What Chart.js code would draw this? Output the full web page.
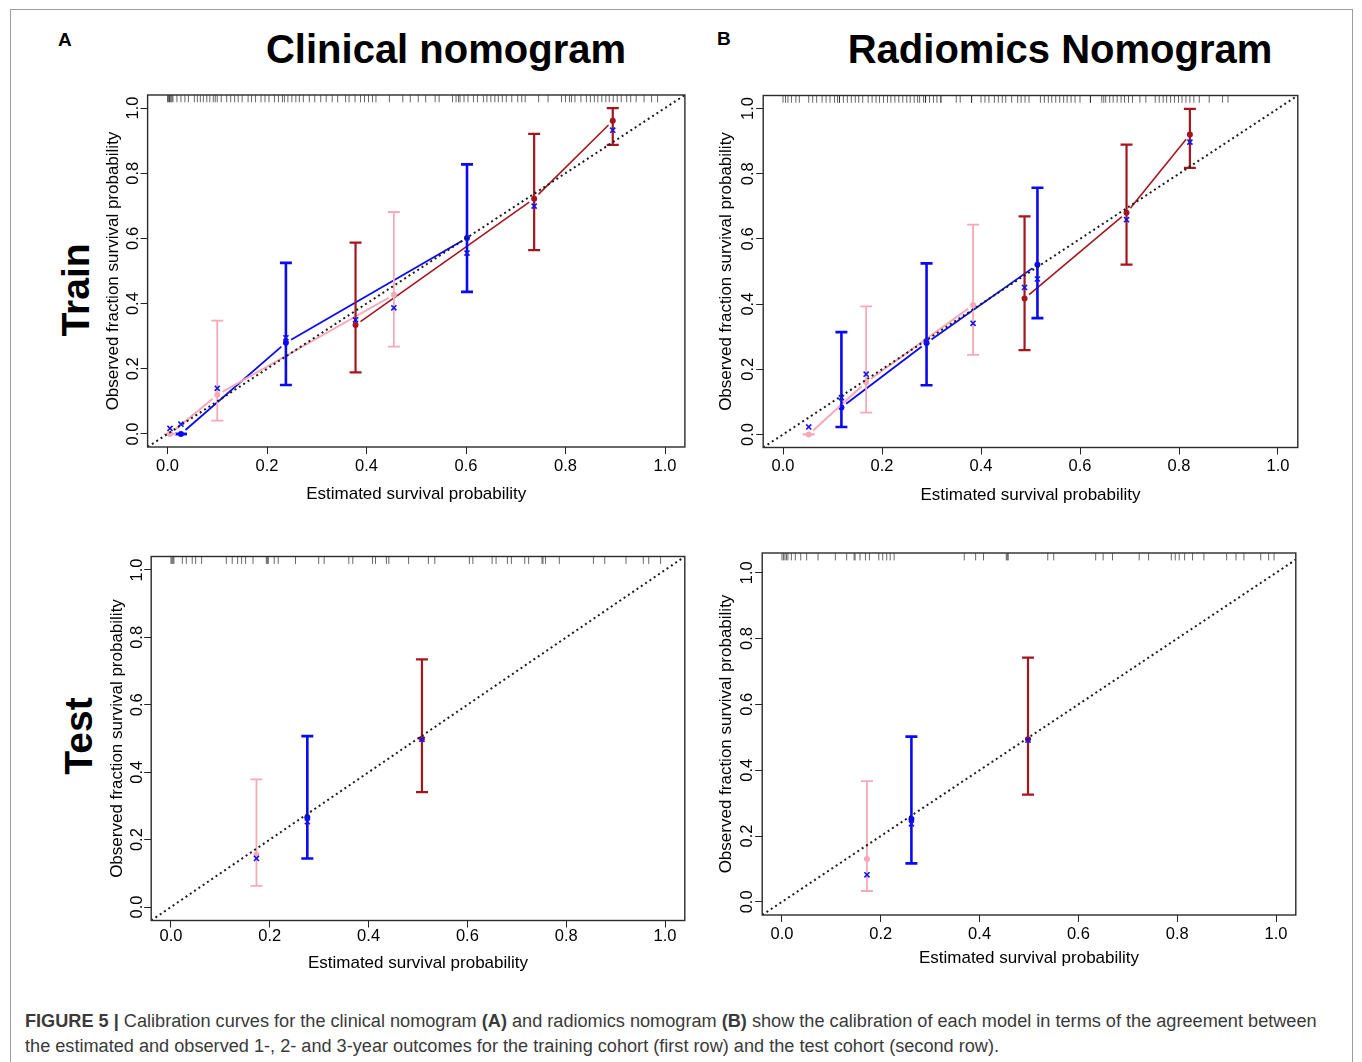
<!DOCTYPE html>
<html>
<head>
<meta charset="utf-8">
<title>Calibration curves</title>
<script src="https://cdn.jsdelivr.net/npm/chart.js@4.4.1/dist/chart.umd.min.js"></script>
<style>
  html, body { margin: 0; padding: 0; width: 1362px; height: 1062px; overflow: hidden; background: #fff; }
  body { position: relative; font-family: "Liberation Sans", Arial, sans-serif; }
  #frame { position: absolute; left: 10px; top: 9px; width: 1341px; height: 1120px; border: 1px solid #9c9c9c; }
  canvas { position: absolute; }
  .txt { position: absolute; white-space: nowrap; color: #000; line-height: 1; }
  .rot { transform: translate(-50%, -50%) rotate(-90deg); }
  .cap { position: absolute; left: 25px; white-space: nowrap; color: #3a3a3a; font-size: 16.5px; line-height: 1; }
  .cap b { color: #3a3a3a; }
</style>
</head>
<body>
<div id="frame"></div>

<div class="txt" style="left:58px;top:30px;font-weight:bold;font-size:19px;">A</div>
<div class="txt" style="left:717px;top:29px;font-weight:bold;font-size:19px;">B</div>
<div class="txt" style="left:146px;top:29px;width:600px;text-align:center;font-weight:bold;font-size:40px;">Clinical nomogram</div>
<div class="txt" style="left:760px;top:29px;width:600px;text-align:center;font-weight:bold;font-size:40px;">Radiomics Nomogram</div>
<div class="txt rot" style="left:75px;top:290px;font-weight:bold;font-size:39px;">Train</div>
<div class="txt rot" style="left:78px;top:736px;font-weight:bold;font-size:39px;">Test</div>

<canvas id="clinTrain"></canvas>
<canvas id="radTrain"></canvas>
<canvas id="clinTest"></canvas>
<canvas id="radTest"></canvas>

<div class="cap" id="cap1" style="top:1012px;"><b>FIGURE 5 |</b> Calibration curves for the clinical nomogram <b>(A)</b> and radiomics nomogram <b>(B)</b> show the calibration of each model in terms of the agreement between</div>
<div class="cap" id="cap2" style="top:1037px;">the estimated and observed 1-, 2- and 3-year outcomes for the training cohort (first row) and the test cohort (second row).</div>

<script>
// ---- axis tick values shared by every panel ----
const AXIS_TICKS = [0, 0.2, 0.4, 0.6, 0.8, 1.0];

// Groups in each panel: [1-year, 2-year, 3-year]
// pred = mean predicted survival, obs = Kaplan-Meier observed, lo/hi = 95% CI, corr = bias-corrected

// ---- Clinical nomogram, training cohort ----
const clinTrainPred = [[0.378, 0.737, 0.895], [0.027, 0.238, 0.602], [0.005, 0.100, 0.455]];
const clinTrainObs  = [[0.334, 0.722, 0.961], [0.000, 0.280, 0.601], [0.000, 0.120, 0.427]];
const clinTrainLo   = [[0.189, 0.564, 0.887], [0.000, 0.150, 0.436], [0.000, 0.041, 0.268]];
const clinTrainHi   = [[0.587, 0.921, 1.000], [0.000, 0.525, 0.827], [0.000, 0.348, 0.681]];
const clinTrainCorr = [[0.350, 0.699, 0.932], [0.030, 0.295, 0.555], [0.017, 0.140, 0.387]];
const clinTrainRug = [0.000, 0.002, 0.004, 0.005, 0.007, 0.009, 0.011, 0.019, 0.027, 0.035, 0.042,
  0.054, 0.060, 0.066, 0.072, 0.079, 0.085, 0.092, 0.096, 0.100, 0.108, 0.119, 0.127, 0.135, 0.142,
  0.150, 0.162, 0.169, 0.177, 0.188, 0.196, 0.204, 0.215, 0.223, 0.231, 0.235, 0.242, 0.250, 0.258,
  0.265, 0.273, 0.285, 0.296, 0.308, 0.319, 0.331, 0.342, 0.358, 0.365, 0.377, 0.388, 0.396, 0.404,
  0.412, 0.419, 0.446, 0.473, 0.488, 0.504, 0.519, 0.538, 0.546, 0.573, 0.580, 0.585, 0.588, 0.596,
  0.604, 0.615, 0.623, 0.635, 0.642, 0.650, 0.658, 0.665, 0.673, 0.681, 0.692, 0.704, 0.712, 0.719,
  0.746, 0.765, 0.792, 0.800, 0.808, 0.812, 0.819, 0.831, 0.842, 0.850, 0.858, 0.865, 0.873, 0.881,
  0.888, 0.896, 0.904, 0.912, 0.923, 0.931, 0.942, 0.958, 0.973, 0.985];

// ---- Radiomics nomogram, training cohort ----
const radTrainPred = [[0.488, 0.694, 0.822], [0.118, 0.290, 0.514], [0.052, 0.168, 0.384]];
const radTrainObs  = [[0.417, 0.680, 0.920], [0.083, 0.281, 0.521], [0.000, 0.160, 0.397]];
const radTrainLo   = [[0.259, 0.521, 0.818], [0.023, 0.151, 0.357], [0.000, 0.067, 0.244]];
const radTrainHi   = [[0.669, 0.889, 0.999], [0.314, 0.525, 0.757], [0.000, 0.393, 0.644]];
const radTrainCorr = [[0.451, 0.659, 0.897], [0.113, 0.285, 0.477], [0.023, 0.185, 0.341]];
const radTrainRug = [0.000, 0.005, 0.010, 0.017, 0.026, 0.033, 0.052, 0.060, 0.068, 0.079, 0.087,
  0.095, 0.104, 0.110, 0.114, 0.114, 0.122, 0.130, 0.138, 0.146, 0.153, 0.161, 0.172, 0.180, 0.188,
  0.195, 0.203, 0.211, 0.218, 0.226, 0.234, 0.242, 0.250, 0.257, 0.265, 0.272, 0.276, 0.284, 0.288,
  0.288, 0.296, 0.304, 0.311, 0.319, 0.319, 0.350, 0.358, 0.381, 0.381, 0.400, 0.408, 0.416, 0.427,
  0.435, 0.443, 0.450, 0.462, 0.474, 0.481, 0.489, 0.497, 0.520, 0.528, 0.536, 0.543, 0.551, 0.559,
  0.567, 0.574, 0.582, 0.590, 0.600, 0.621, 0.621, 0.644, 0.648, 0.652, 0.660, 0.667, 0.675, 0.683,
  0.690, 0.698, 0.706, 0.721, 0.733, 0.752, 0.760, 0.768, 0.775, 0.783, 0.791, 0.799, 0.806, 0.814,
  0.822, 0.830, 0.841, 0.861, 0.888, 0.899];

// ---- Clinical nomogram, test cohort ----
const clinTestPred = [[0.508], [0.276], [0.173]];
const clinTestObs  = [[0.499], [0.266], [0.155]];
const clinTestLo   = [[0.341], [0.144], [0.063]];
const clinTestHi   = [[0.735], [0.507], [0.379]];
const clinTestCorr = [[0.497], [0.253], [0.144]];
const clinTestRug = [0.000, 0.002, 0.004, 0.006, 0.023, 0.031, 0.043, 0.050, 0.062, 0.112, 0.124,
  0.135, 0.143, 0.151, 0.166, 0.193, 0.195, 0.197, 0.209, 0.217, 0.252, 0.299, 0.310, 0.360, 0.368,
  0.408, 0.414, 0.436, 0.441, 0.481, 0.521, 0.534, 0.604, 0.611, 0.650, 0.658, 0.681, 0.689, 0.716,
  0.724, 0.751, 0.753, 0.758, 0.786, 0.855, 0.878, 0.921, 0.956, 0.967, 0.991];

// ---- Radiomics nomogram, test cohort ----
const radTestPred = [[0.498], [0.262], [0.172]];
const radTestObs  = [[0.494], [0.252], [0.130]];
const radTestLo   = [[0.326], [0.117], [0.033]];
const radTestHi   = [[0.742], [0.502], [0.367]];
const radTestCorr = [[0.491], [0.237], [0.082]];
const radTestRug = [0.000, 0.003, 0.006, 0.009, 0.012, 0.019, 0.027, 0.038, 0.050, 0.073, 0.108,
  0.131, 0.146, 0.148, 0.158, 0.169, 0.177, 0.196, 0.204, 0.212, 0.219, 0.227, 0.369, 0.392, 0.408,
  0.454, 0.456, 0.458, 0.538, 0.550, 0.635, 0.650, 0.669, 0.723, 0.742, 0.788, 0.796, 0.804, 0.815,
  0.831, 0.854, 0.900, 0.919, 0.935, 0.969, 0.985, 0.996];

// ---- styling ----
const GROUP_STYLE = [
  { color: '#A3161D', bar: 2.2, line: 1.6 },   // 1-year
  { color: '#0A0AF2', bar: 2.6, line: 1.8 },   // 2-year
  { color: '#F6A9B8', bar: 1.8, line: 2.0 }    // 3-year
];
const CORR_COLOR = '#1414F0';
const FONT = '"Liberation Sans", Arial, sans-serif';

// Connecting lines drawn with short gaps around each point (like type = "b")
const gapLines = {
  id: 'gapLines',
  beforeDatasetDraw(chart, args) {
    const ds = chart.data.datasets[args.index];
    if (!ds.gapLine) return;
    const pts = args.meta.data;
    const ctx = chart.ctx;
    const g = ds.gapLine.gap;
    ctx.save();
    ctx.strokeStyle = ds.gapLine.color;
    ctx.lineWidth = ds.gapLine.width;
    for (let i = 1; i < pts.length; i++) {
      const a = pts[i - 1], b = pts[i];
      const dx = b.x - a.x, dy = b.y - a.y, len = Math.hypot(dx, dy);
      if (len <= 2 * g) continue;
      const ux = dx / len, uy = dy / len;
      ctx.beginPath();
      ctx.moveTo(a.x + ux * g, a.y + uy * g);
      ctx.lineTo(b.x - ux * g, b.y - uy * g);
      ctx.stroke();
    }
    ctx.restore();
  }
};

// Frame around the plotting region
const plotBox = {
  id: 'plotBox',
  afterDraw(chart) {
    const { ctx, chartArea: { left, top, right, bottom } } = chart;
    ctx.save();
    ctx.strokeStyle = '#2a2a2a';
    ctx.lineWidth = 1.4;
    ctx.strokeRect(left, top, right - left, bottom - top);
    ctx.restore();
  }
};

function buildPanel(id, rect, area, labels, range, d) {
  const cv = document.getElementById(id);
  cv.width = rect.w; cv.height = rect.h;
  cv.style.left = rect.x + 'px'; cv.style.top = rect.y + 'px';
  cv.style.width = rect.w + 'px'; cv.style.height = rect.h + 'px';

  const yAxisWidth = area.left - rect.x;
  const xAxisHeight = rect.y + rect.h - area.bottom;
  const tickSize = 16.5, titleSize = 17;
  const halfTick = tickSize * 1.2 / 2;
  const halfTitle = titleSize * 1.2 / 2;
  const tickLen = 7;

  const datasets = [];

  // identity line
  datasets.push({
    data: [{ x: range.x[0], y: range.x[0] }, { x: range.x[1], y: range.x[1] }],
    showLine: true, borderColor: '#1c1c1c', borderWidth: 2, borderDash: [2, 3.2],
    pointRadius: 0, order: 2
  });

  // distribution of predictions along the top edge
  const rugY = range.y[1] - (range.y[1] - range.y[0]) * 0.0105;
  datasets.push({
    data: d.rug.map(v => ({ x: v, y: rugY })),
    showLine: false, pointStyle: 'line', pointRotation: 90, pointRadius: 3.6,
    pointBorderColor: 'rgba(0,0,0,0.6)', pointBorderWidth: 1, order: 6
  });

  d.pred.forEach((xs, g) => {
    const st = GROUP_STYLE[g];
    // confidence bars with caps
    xs.forEach((x, j) => {
      datasets.push({
        data: [{ x: x, y: d.lo[g][j] }, { x: x, y: d.hi[g][j] }],
        showLine: true, borderColor: st.color, borderWidth: st.bar,
        pointStyle: 'line', pointRadius: 6, pointBorderColor: st.color,
        pointBorderWidth: st.bar, order: 4 - g * 0.1
      });
    });
    // observed points joined by lines
    datasets.push({
      data: xs.map((x, j) => ({ x: x, y: d.obs[g][j] })),
      showLine: false, pointStyle: 'circle', pointRadius: 3,
      pointBackgroundColor: st.color, pointBorderWidth: 0,
      gapLine: { color: st.color, width: st.line, gap: 6 },
      order: 5 - g * 0.1
    });
  });

  // bias-corrected estimates
  const corr = [];
  d.pred.forEach((xs, g) => xs.forEach((x, j) => corr.push({ x: x, y: d.corr[g][j] })));
  datasets.push({
    data: corr, showLine: false, pointStyle: 'crossRot', pointRadius: 3.6,
    pointBorderColor: CORR_COLOR, pointBorderWidth: 1.6, order: 1
  });

  const tickFont = { family: FONT, size: tickSize, lineHeight: 1.2 };
  const titleFont = { family: FONT, size: titleSize, lineHeight: 1.2 };
  const fixedTicks = s => { s.ticks = AXIS_TICKS.map(v => ({ value: v })); };

  return new Chart(cv, {
    type: 'scatter',
    data: { datasets },
    plugins: [gapLines, plotBox],
    options: {
      responsive: false, animation: false, events: [],
      layout: { padding: { left: 0, top: area.top - rect.y, right: rect.x + rect.w - area.right, bottom: 0 } },
      plugins: { legend: { display: false }, tooltip: { enabled: false } },
      scales: {
        x: {
          type: 'linear', position: 'bottom', min: range.x[0], max: range.x[1],
          afterBuildTicks: fixedTicks,
          afterFit: s => { s.height = xAxisHeight; },
          border: { display: false },
          grid: { drawOnChartArea: false, drawTicks: true, tickLength: tickLen, color: '#222', lineWidth: 1 },
          ticks: { autoSkip: false, color: '#000', font: tickFont, padding: labels.xTick - area.bottom - tickLen - halfTick,
                   callback: v => v.toFixed(1) },
          title: { display: true, text: 'Estimated survival probability', color: '#000',
                   font: titleFont,
                   padding: { top: 0, bottom: rect.y + rect.h - labels.xTitle - halfTitle } }
        },
        y: {
          type: 'linear', position: 'left', min: range.y[0], max: range.y[1],
          afterBuildTicks: fixedTicks,
          afterFit: s => { s.width = yAxisWidth; },
          border: { display: false },
          grid: { drawOnChartArea: false, drawTicks: true, tickLength: tickLen, color: '#222', lineWidth: 1 },
          ticks: { autoSkip: false, color: '#000', font: tickFont, minRotation: 90, maxRotation: 90,
                   crossAlign: 'center', padding: area.left - labels.yTick - tickLen - 11.5,
                   callback: v => v.toFixed(1) },
          title: { display: true, text: 'Observed fraction survival probability', color: '#000',
                   font: titleFont,
                   padding: { top: labels.yTitle - rect.x - halfTitle, bottom: 0 } }
        }
      }
    }
  });
}

const STD_RANGE = { x: [-0.04, 1.04], y: [-0.04, 1.04] };

buildPanel('clinTrain',
  { x: 85, y: 80, w: 620, h: 440 },
  { left: 147.6, right: 684.9, top: 95, bottom: 447 },
  { xTick: 466, xTitle: 494, yTick: 133, yTitle: 113 },
  STD_RANGE,
  { pred: clinTrainPred, obs: clinTrainObs, lo: clinTrainLo, hi: clinTrainHi, corr: clinTrainCorr, rug: clinTrainRug });

buildPanel('radTrain',
  { x: 700, y: 80, w: 620, h: 440 },
  { left: 763.2, right: 1297.8, top: 95.5, bottom: 447.5 },
  { xTick: 466, xTitle: 495, yTick: 748, yTitle: 726 },
  STD_RANGE,
  { pred: radTrainPred, obs: radTrainObs, lo: radTrainLo, hi: radTrainHi, corr: radTrainCorr, rug: radTrainRug });

buildPanel('clinTest',
  { x: 85, y: 540, w: 620, h: 440 },
  { left: 151.2, right: 684.8, top: 556.5, bottom: 920.5 },
  { xTick: 936, xTitle: 963, yTick: 137, yTitle: 117 },
  STD_RANGE,
  { pred: clinTestPred, obs: clinTestObs, lo: clinTestLo, hi: clinTestHi, corr: clinTestCorr, rug: clinTestRug });

buildPanel('radTest',
  { x: 700, y: 540, w: 620, h: 440 },
  { left: 762.2, right: 1295.8, top: 553, bottom: 915 },
  { xTick: 934, xTitle: 958, yTick: 747, yTitle: 726.5 },
  { x: [-0.04, 1.04], y: [-0.04, 1.06] },
  { pred: radTestPred, obs: radTestObs, lo: radTestLo, hi: radTestHi, corr: radTestCorr, rug: radTestRug });

// caption sized so the first line spans the figure width
(function fitCaption() {
  const c1 = document.getElementById('cap1');
  const c2 = document.getElementById('cap2');
  const w = c1.getBoundingClientRect().width;
  const fs = 16.5 * 1293 / w;
  c1.style.fontSize = fs + 'px';
  c2.style.fontSize = fs + 'px';
})();
</script>
</body>
</html>
